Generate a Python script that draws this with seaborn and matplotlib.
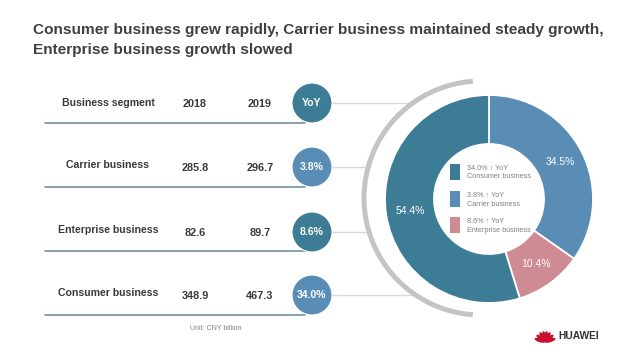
import numpy as np
import pandas as pd
import matplotlib
matplotlib.use("Agg")
import matplotlib.pyplot as plt
from matplotlib.patches import Arc, Rectangle, Ellipse
import seaborn as sns

# Data
segments = ["Carrier business", "Enterprise business", "Consumer business"]
rev_2018 = [285.8, 82.6, 348.9]
rev_2019 = [296.7, 89.7, 467.3]
yoy_labels = ["3.8%", "8.6%", "34.0%"]

share_names = ["Carrier business", "Enterprise business", "Consumer business"]
shares = [34.5, 10.4, 54.4]
share_labels = ["34.5%", "10.4%", "54.4%"]

legend_names = ["Consumer business", "Carrier business", "Enterprise business"]
legend_yoy = ["34.0%", "3.8%", "8.6%"]

sns.set_theme(style="white")
plt.rcParams["font.family"] = ["Liberation Sans Narrow", "Liberation Sans", "DejaVu Sans"]

teal = "#3d7c95"
blue = "#5a8db6"
pink = "#cf8b93"
seg_colors = {"Carrier business": blue, "Enterprise business": pink, "Consumer business": teal}
dark = "#3a3a3a"

W, H = 640, 354
fig = plt.figure(figsize=(6.4, 3.54), dpi=100)
ax = fig.add_axes([0, 0, 1, 1])


def Y(y):
    return H - y


# Title
ax.text(33, Y(30), "Consumer business grew rapidly, Carrier business maintained steady growth,",
        fontsize=11.1, fontweight="bold", color="#404040", va="center", ha="left")
ax.text(33, Y(50), "Enterprise business growth slowed",
        fontsize=11.1, fontweight="bold", color="#404040", va="center", ha="left")

# Table
row_y = [103, 167, 232, 295]
line_y = [123, 187, 251, 315]
x_label, x_2018, x_2019, x_circ = 108, 195, 260, 312

ax.text(x_label, Y(row_y[0]), "Business segment", fontsize=7.6, fontweight="bold",
        color=dark, ha="center", va="center")
ax.text(x_2018, Y(row_y[0] + 1), "2018", fontsize=7.8, fontweight="bold", color=dark, ha="center", va="center")
ax.text(x_2019, Y(row_y[0] + 1), "2019", fontsize=7.8, fontweight="bold", color=dark, ha="center", va="center")
for i, seg in enumerate(segments):
    ry = row_y[i + 1]
    ax.text(x_label, Y(ry - 2), seg, fontsize=7.6, fontweight="bold", color=dark, ha="center", va="center")
    ax.text(x_2018, Y(ry + 1), f"{rev_2018[i]:.1f}", fontsize=7.8, fontweight="bold", color=dark,
            ha="center", va="center")
    ax.text(x_2019, Y(ry + 1), f"{rev_2019[i]:.1f}", fontsize=7.8, fontweight="bold", color=dark,
            ha="center", va="center")

for ly in line_y:
    ax.plot([45, 305], [Y(ly), Y(ly)], color="#7d98a3", lw=1.3, zorder=1)

# Connector lines from the bubbles to the arc
arc_cx, arc_cy, arc_r = 481, 198, 117
for ry in row_y:
    dy = ry - arc_cy
    x_end = arc_cx - np.sqrt(max(arc_r ** 2 - dy ** 2, 0)) + 2
    ax.plot([x_circ, x_end], [Y(ry), Y(ry)], color="#d9d9d9", lw=1.0, zorder=1)

# YoY bubbles
bubbles = pd.DataFrame({
    "x": [x_circ] * 4,
    "y": [Y(v) for v in row_y],
    "label": ["YoY"] + yoy_labels,
    "color": [teal, blue, teal, blue],
})
sns.scatterplot(data=bubbles, x="x", y="y", hue="label", palette=list(bubbles["color"]),
                s=(2 * 20 * 0.72) ** 2, edgecolor="white", linewidth=0.8, legend=False,
                ax=ax, zorder=3)
for _, r in bubbles.iterrows():
    ax.text(r["x"], r["y"], r["label"], fontsize=7.5, fontweight="bold", color="white",
            ha="center", va="center", zorder=4)

ax.text(216, Y(329), "Unit: CNY billion", fontsize=5, color="#808080", ha="center", va="center")

# Gray arc
ax.add_patch(Arc((arc_cx, Y(arc_cy)), 2 * arc_r, 2 * arc_r, theta1=94, theta2=266,
                 color="#c4c4c4", lw=3.6, capstyle="butt", zorder=1))

# Donut
lab_iter = iter(share_labels)
wedges, _, autotexts = ax.pie(
    shares, colors=[seg_colors[n] for n in share_names], startangle=90, counterclock=False,
    center=(489, Y(199)), radius=104, autopct=lambda p: next(lab_iter), pctdistance=0.77,
    wedgeprops=dict(width=49, edgecolor="white", linewidth=1.3),
    textprops=dict(color="white", fontsize=7.5), frame=True)
for t in autotexts:
    t.set_zorder(5)

# Center legend
leg_y = [164, 191, 217]
leg_cols = [teal, blue, pink]
for i, name in enumerate(legend_names):
    top = leg_y[i]
    ax.add_patch(Rectangle((450, Y(top + 16)), 10, 16, color=leg_cols[i], lw=0, zorder=5))
    ax.text(467, Y(top + 4), f"{legend_yoy[i]} \u2191 YoY", fontsize=5.2, color="#808080",
            ha="left", va="center", zorder=5, family=["Liberation Sans", "DejaVu Sans"])
    ax.text(467, Y(top + 13), name, fontsize=5.2, color="#808080", ha="left", va="center",
            zorder=5, family=["Liberation Sans", "DejaVu Sans"])

# Huawei logo
lx, ly = 545, 342
for ang in [18, 40, 62, 81, 99, 118, 140, 162]:
    a = np.deg2rad(ang)
    ax.add_patch(Ellipse((lx + 5.5 * np.cos(a), Y(ly) + 5.5 * np.sin(a)), 11, 3.8, angle=ang,
                         color="#c8102e", lw=0, zorder=5))
ax.text(558, Y(336), "HUAWEI", fontsize=7.4, fontweight="bold", color="#333333",
        ha="left", va="center", family=["Liberation Sans", "DejaVu Sans"])

ax.set_xlim(0, W)
ax.set_ylim(0, H)
ax.set_aspect("equal")
ax.axis("off")

fig.savefig("out.png", dpi=100)
